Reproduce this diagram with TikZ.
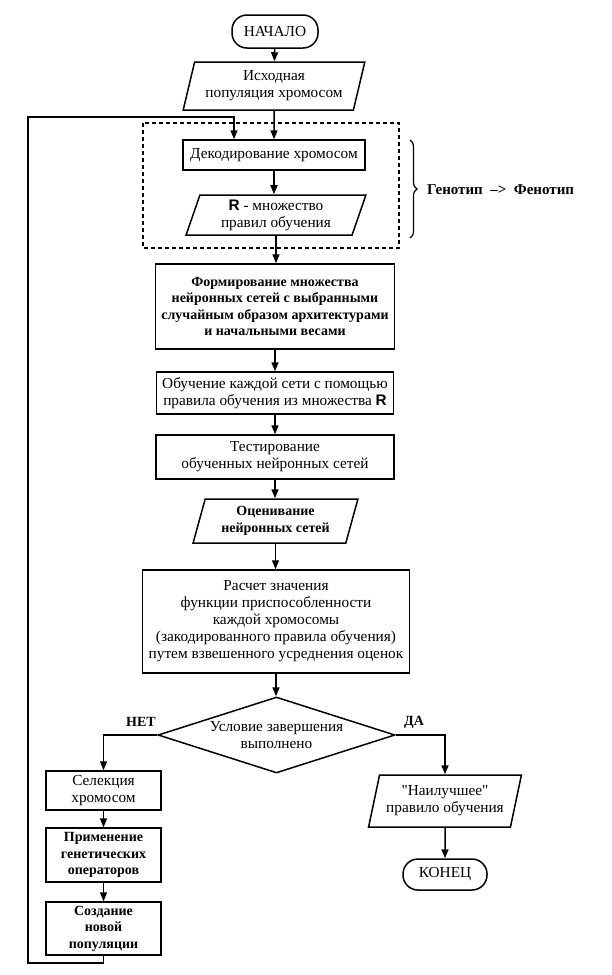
\documentclass[tikz,border=0pt]{standalone}
\usepackage{fontspec}
\setmainfont{Liberation Serif}
\newfontfamily\rsans{Liberation Sans}
\newfontfamily\qfont{Liberation Serif}
\usetikzlibrary{shapes.geometric,arrows.meta,decorations.pathreplacing}
\begin{document}
\begin{tikzpicture}[x=1pt,y=-1pt,
  every node/.style={font=\fontsize{15.3}{17}\selectfont, align=center, inner sep=0pt},
  bf/.style={font=\bfseries\fontsize{14}{16.5}\selectfont},
  box/.style={draw, line width=1.5pt, rectangle},
  io/.style={draw, line width=1.5pt, trapezium, trapezium left angle=72, trapezium right angle=108, trapezium stretches=true},
  term/.style={draw, line width=1.5pt, rounded corners=15pt, rectangle},
  cnd/.style={draw, line width=1.5pt, diamond, aspect=3.1},
  arr/.style={line width=1.5pt, -{Triangle[length=9pt,width=7pt]}},
  ]
\useasboundingbox (0,0) rectangle (611,975);
\draw[fill=white,draw=none] (0,0) rectangle (611,975);

\node[term, minimum width=86pt, minimum height=33pt] (start) at (275,31.5) {НАЧАЛО};
\node[io, minimum width=182pt, minimum height=48pt] (init) at (274,86) {Исходная\\популяция хромосом};
\node[box, minimum width=182pt, minimum height=30pt] (dec) at (274,155) {Декодирование хромосом};
\node[io, minimum width=180pt, minimum height=40pt] (R) at (276,215) {{\rsans\bfseries R} - множество\\правил обучения};
\draw[line width=1.2pt, dash pattern=on 4pt off 3pt] (143,123) rectangle (399,248);
\node[box, bf, minimum width=239pt, minimum height=85pt] (form) at (275,306.5) {Формирование множества\\нейронных сетей с выбранными\\случайным образом архитектурами\\и начальными весами};
\node[box, minimum width=237pt, minimum height=42pt] (train) at (275,393) {Обучение каждой сети с помощью\\правила обучения из множества {\rsans\bfseries R}};
\node[box, minimum width=238pt, minimum height=44pt] (test) at (275,457) {Тестирование\\обученных нейронных сетей};
\node[io, bf, minimum width=165pt, minimum height=44pt] (eval) at (275.5,521) {Оценивание\\нейронных сетей};
\node[box, minimum width=267pt, minimum height=103pt] (calc) at (276,621.5) {Расчет значения\\функции приспособленности\\каждой хромосомы\\(закодированного правила обучения)\\путем взвешенного усреднения оценок};
\node[cnd, minimum width=237pt, minimum height=76pt] (cond) at (276.5,735) {Условие завершения\\выполнено};
\node[box, minimum width=115pt, minimum height=39pt] (sel) at (103.5,790.5) {Селекция\\хромосом};
\node[box, bf, minimum width=115pt, minimum height=54pt] (apply) at (103.5,855) {Применение\\генетических\\операторов};
\node[box, bf, minimum width=115pt, minimum height=53pt] (create) at (103.5,928.5) {Создание\\новой\\популяции};
\node[io, minimum width=153pt, minimum height=52pt] (best) at (445,801) {{\qfont"}Наилучшее{\qfont"}\\правило обучения};
\node[term, minimum width=84pt, minimum height=31pt] (end) at (445,874.5) {КОНЕЦ};

\node[bf] (no) at (141,722) {НЕТ};
\node[bf] (yes) at (414,722) {ДА};
\node[anchor=west, font=\bfseries\fontsize{15}{17}\selectfont] (geno) at (427,190) {Генотип\ \ –>\ \ Фенотип};
\draw[line width=1.2pt, decorate, decoration={brace, amplitude=7pt}] (410,140) -- (410,238);

\coordinate (lp2) at (28,963);
\coordinate (lp4) at (234,117);

\draw[arr] (start) -- (init);
\draw[arr] (init) -- (init |- dec.north);
\draw[arr] (dec) -- (dec |- R.north);
\draw[arr] (R.south) -- (R.south |- form.north);
\draw[arr] (form) -- (train);
\draw[arr] (train) -- (test);
\draw[arr] (test) -- (test |- eval.north);
\draw[arr] (eval.south) -- (eval.south |- calc.north);
\draw[arr] (calc.south) -- (calc.south |- cond.north);
\draw[arr] (cond.west) -| (sel.north);
\draw[arr] (cond.east) -| (best.north);
\draw[arr] (sel) -- (apply);
\draw[arr] (apply) -- (create);
\draw[arr] (best) -- (end);
\draw[arr] (create.south) |- (lp2) |- (lp4) -- (lp4 |- dec.north);
\end{tikzpicture}
\end{document}
